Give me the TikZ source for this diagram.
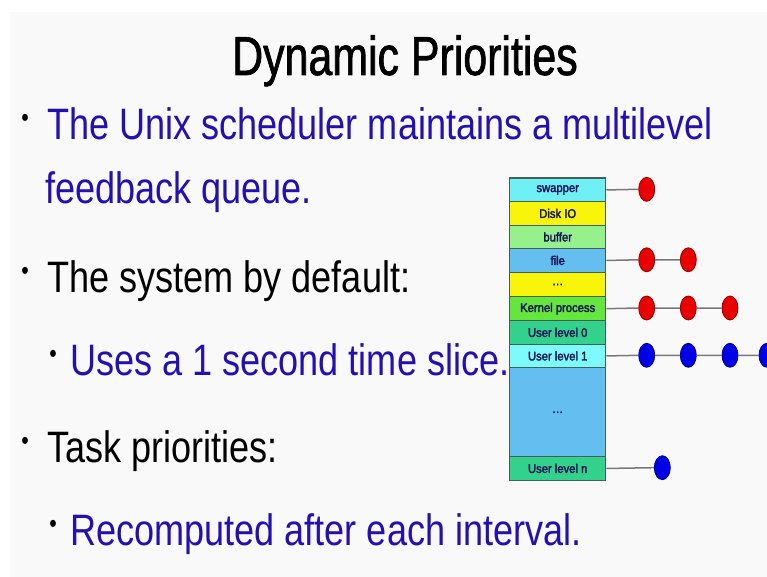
\documentclass[tikz,border=0pt]{standalone}
\usepackage{fontspec}
\setmainfont{Liberation Sans}[FakeStretch=0.82]
\newfontfamily\titlefont{Liberation Sans}[FakeStretch=0.78, FakeBold=1.2]
\newfontfamily\labelfont{Liberation Sans}[FakeStretch=0.9, FakeBold=2.5]
\usetikzlibrary{shapes.geometric}

\definecolor{slidebg}{RGB}{248,249,248}
\definecolor{bodyblue}{RGB}{36,16,176}
\definecolor{labelnavy}{RGB}{22,22,90}
\definecolor{rowline}{RGB}{70,95,85}
\definecolor{linkgray}{RGB}{120,120,120}
\definecolor{cSwap}{RGB}{110,240,245}
\definecolor{cYellow}{RGB}{248,245,10}
\definecolor{cBuffer}{RGB}{150,240,140}
\definecolor{cFile}{RGB}{100,190,240}
\definecolor{cKernel}{RGB}{100,230,60}
\definecolor{cUser}{RGB}{50,210,140}
\definecolor{cUserOne}{RGB}{125,250,250}
\definecolor{procred}{RGB}{235,0,0}
\definecolor{procblue}{RGB}{0,0,230}

\tikzset{
  slidetext/.style={anchor=base west, inner sep=0pt, font=\fontsize{44}{48}\selectfont},
  bullet/.style={anchor=base, inner sep=0pt, font=\fontsize{26}{28}\selectfont},
  qrow/.style={draw=rowline, line width=1.4pt, anchor=north west, inner sep=0pt,
    minimum width=96pt, text=labelnavy, font=\labelfont\fontsize{12.5}{13}\selectfont},
  proc/.style={ellipse, draw=#1!60!black, fill=#1, line width=0.8pt,
    minimum width=16pt, minimum height=24pt, inner sep=0pt},
  link/.style={draw=linkgray, line width=1.5pt}
}

\begin{document}
\begin{tikzpicture}[x=1pt,y=-1pt]
\useasboundingbox (0,0) rectangle (767,577);
\clip (0,0) rectangle (767,577);
\fill[white] (0,0) rectangle (767,577);
\fill[slidebg] (10,12) rectangle (767,577);

% title
\node[anchor=base, inner sep=0pt, font=\titlefont\fontsize{55}{60}\selectfont] (title) at (405,75) {Dynamic Priorities};

% bullet list
\node[bullet] (b1) at (25,127) {•};
\node[slidetext, text=bodyblue] (t1) at (47,140) {The Unix scheduler maintains a multilevel};
\node[slidetext, text=bodyblue] (t1b) at (45,204) {feedback queue.};
\node[bullet] (b2) at (25,279) {•};
\node[slidetext] (t2) at (47,292) {The system by default:};
\node[bullet] (b3) at (53,362) {•};
\node[slidetext, text=bodyblue] (t3) at (70,375) {Uses a 1 second time slice.};
\node[bullet] (b4) at (25,449) {•};
\node[slidetext] (t4) at (47,462) {Task priorities:};
\node[bullet] (b5) at (53,532) {•};
\node[slidetext, text=bodyblue] (t5) at (70,545) {Recomputed after each interval.};

% priority queue table
\node[qrow, fill=cSwap,    minimum height=23.5pt] (swapper) at (509,177.5) {swapper};
\node[qrow, fill=cYellow,  minimum height=23.5pt] (disk)    at (509,201)   {Disk IO};
\node[qrow, fill=cBuffer,  minimum height=23.5pt] (buffer)  at (509,224.5) {buffer};
\node[qrow, fill=cFile,    minimum height=23.5pt] (file)    at (509,248)   {file};
\node[qrow, fill=cYellow,  minimum height=24.5pt] (dotsA)   at (509,271.5) {\dots};
\node[qrow, fill=cKernel,  minimum height=24pt]   (kernel)  at (509,296)   {Kernel process};
\node[qrow, fill=cUser,    minimum height=23.5pt] (user0)   at (509,320)   {User level 0};
\node[qrow, fill=cUserOne, minimum height=23.5pt] (user1)   at (509,343.5) {User level 1};
\node[qrow, fill=cFile,    minimum height=89pt]   (dotsB)   at (509,367)   {\dots};
\node[qrow, fill=cUser,    minimum height=23.5pt] (usern)   at (509,456)   {User level n};

% processes waiting at each level
\node[proc=procred] (s1) at (646.7,189.3) {};
\node[proc=procred] (f1) at (646.7,259.8) {};
\node[proc=procred] (f2) at (688.3,259.8) {};
\node[proc=procred] (k1) at (646.7,308) {};
\node[proc=procred] (k2) at (688.3,308) {};
\node[proc=procred] (k3) at (730,308) {};
\node[proc=procblue] (u1) at (646.7,355.3) {};
\node[proc=procblue] (u2) at (688.3,355.3) {};
\node[proc=procblue] (u3) at (730,355.3) {};
\node[proc=procblue] (u4) at (767,355.3) {};
\node[proc=procblue] (n1) at (662.3,467.7) {};

% queue links
\draw[link] (swapper.east) -- (s1.west);
\draw[link] (file.east) -- (f1.west) (f1.east) -- (f2.west);
\draw[link] (kernel.east) -- (k1.west) (k1.east) -- (k2.west) (k2.east) -- (k3.west);
\draw[link] (user1.east) -- (u1.west) (u1.east) -- (u2.west) (u2.east) -- (u3.west) (u3.east) -- (u4.west);
\draw[link] (usern.east) -- (n1.west);
\end{tikzpicture}
\end{document}
